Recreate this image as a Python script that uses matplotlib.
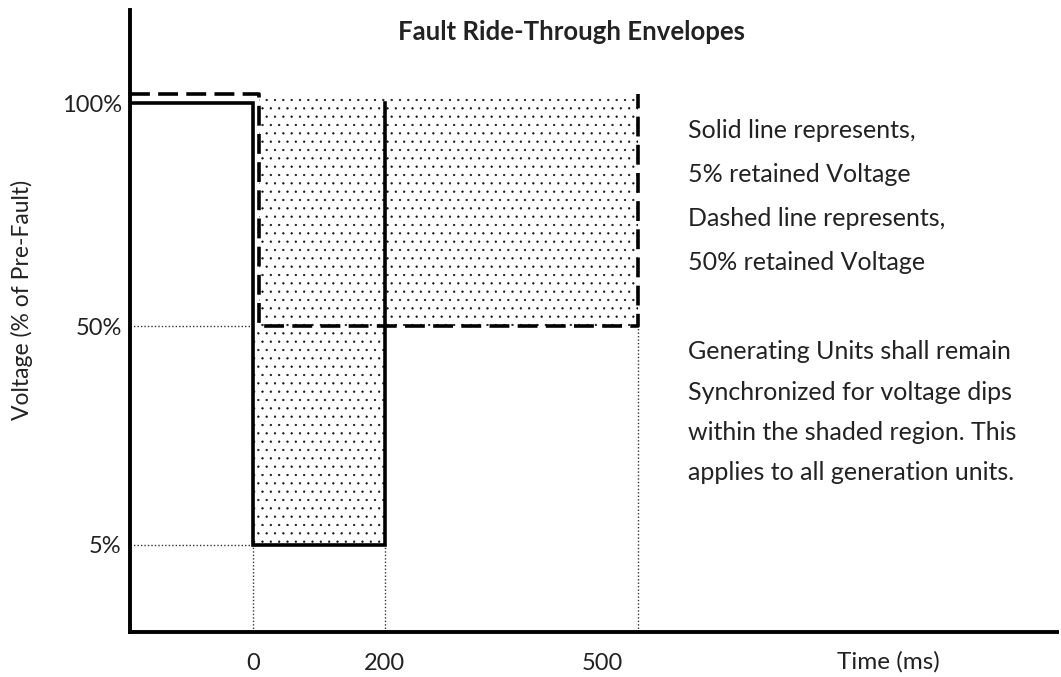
import numpy as np
import matplotlib
matplotlib.use("Agg")
import matplotlib.pyplot as plt
from matplotlib.scale import FuncScale

plt.rcParams['font.family'] = ['Lato', 'DejaVu Sans']
plt.rcParams['hatch.linewidth'] = 0.4

# --- schematic envelope data (time in ms, voltage in % of pre-fault) ---
t_solid = [-186, 0, 0, 200, 200]
v_solid = [100, 100, 5, 5, 100]

t_dashed = [-186, 10, 10, 550, 550]
v_dashed = [102, 102, 50, 50, 102]

# shaded "must stay synchronized" region
t_shade = [10, 550, 550, 200, 200, 0, 0, 10]
v_shade = [102, 102, 50, 50, 5, 5, 50, 50]

yticks = [5, 50, 100]
ytick_labels = ["5%", "50%", "100%"]
xticks = [0, 200, 500]
xtick_labels = ["0", "200", "500"]

# the drawing isn't to scale: axis positions
x_anchor_vals = [0, 200, 500]
x_anchor_pos = [253, 385, 602]
y_anchor_vals = [5, 50, 100]
y_anchor_pos = [-545, -326, -103]

note_top = ["Solid line represents,", "5% retained Voltage",
            "Dashed line represents,", "50% retained Voltage"]
note_bottom = ["Generating Units shall remain", "Synchronized for voltage dips",
               "within the shaded region. This", "applies to all generation units."]


def piecewise(a, p):
    a = np.asarray(a, float)
    p = np.asarray(p, float)
    s0 = (p[1] - p[0]) / (a[1] - a[0])
    s1 = (p[-1] - p[-2]) / (a[-1] - a[-2])

    def f(v):
        v = np.asarray(v, float)
        return np.where(v < a[0], p[0] + (v - a[0]) * s0,
                        np.where(v > a[-1], p[-1] + (v - a[-1]) * s1,
                                 np.interp(v, a, p)))
    return f


fig = plt.figure(figsize=(10.61, 6.77), dpi=100)
W, H = 1061, 677
ax = fig.add_axes([130 / W, 45 / H, (1057 - 130) / W, (632 - 10) / H])

ax.set_xscale(FuncScale(ax.xaxis, (piecewise(x_anchor_vals, x_anchor_pos),
                                   piecewise(x_anchor_pos, x_anchor_vals))))
ax.set_yscale(FuncScale(ax.yaxis, (piecewise(y_anchor_vals, y_anchor_pos),
                                   piecewise(y_anchor_pos, y_anchor_vals))))
ax.set_xlim(-186, 1129)
ax.set_ylim(-12.9, 120.9)

# shaded region (stipple)
ax.fill(t_shade, v_shade, facecolor='white', edgecolor='#111111', hatch='..',
        linewidth=0, zorder=1)

# dotted guide lines
gd = dict(color='#333333', lw=1.0, ls=(0, (1, 1.5)), zorder=2)
ax.plot([-186, 0], [50, 50], **gd)
ax.plot([-186, 0], [5, 5], **gd)
ax.plot([0, 0], [-12.9, 5], **gd)
ax.plot([200, 200], [-12.9, 5], **gd)
ax.plot([550, 550], [-12.9, 50], **gd)

ax.plot(t_solid, v_solid, color='black', lw=2.6, solid_joinstyle='miter', zorder=4)
ax.plot(t_dashed, v_dashed, color='black', lw=2.6, ls=(0, (5.5, 2.3)), zorder=3)

for s in ['top', 'right']:
    ax.spines[s].set_visible(False)
for s in ['left', 'bottom']:
    ax.spines[s].set_linewidth(2.8)

ax.set_yticks(yticks)
ax.set_yticklabels(ytick_labels)
ax.set_xticks(xticks)
ax.set_xticklabels(xtick_labels)
ax.minorticks_off()
ax.tick_params(length=0, colors='#222222')
ax.tick_params(axis='y', labelsize=17, pad=6)
ax.tick_params(axis='x', labelsize=17, pad=15)

ax.set_ylabel("Voltage (% of Pre-Fault)", fontsize=16.5, color='#222222')
ax.yaxis.set_label_coords((22 - 130) / 927, (632 - 300) / 622)
ax.yaxis.label.set_va('center')
ax.set_xlabel("Time (ms)", fontsize=17.5, color='#222222')
ax.xaxis.set_label_coords((888 - 130) / 927, (632 - 662) / 622)
ax.xaxis.label.set_va('center')

fig.text(572 / W, 1 - 32 / H, "Fault Ride-Through Envelopes", ha='center', va='center',
         fontsize=18.5, fontweight='bold', color='#222222')

for i, line in enumerate(note_top):
    fig.text(688 / W, 1 - (130 + 44 * i) / H, line, ha='left', va='center',
             fontsize=18, color='#222222')
for i, line in enumerate(note_bottom):
    fig.text(688 / W, 1 - (352 + 40 * i) / H, line, ha='left', va='center',
             fontsize=18, color='#222222')

fig.savefig("out.png", dpi=100)
